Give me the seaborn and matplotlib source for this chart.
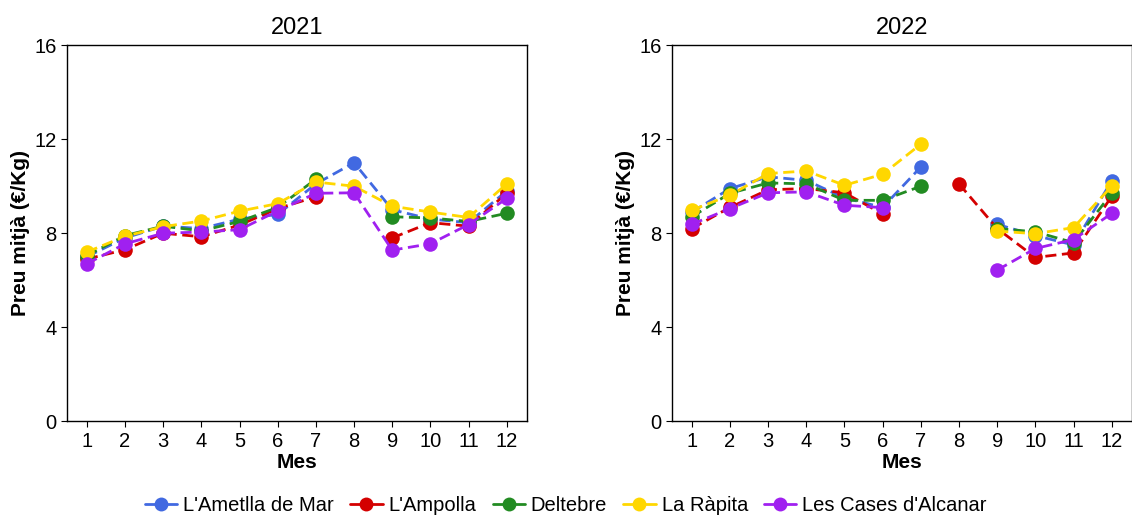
import numpy as np
import pandas as pd
import matplotlib
matplotlib.use("Agg")
import matplotlib.pyplot as plt
from matplotlib.lines import Line2D
import seaborn as sns

nan = np.nan
months = list(range(1, 13))
towns = ["L'Ametlla de Mar", "L'Ampolla", "Deltebre", "La Ràpita", "Les Cases d'Alcanar"]
colors = ["#4169E1", "#D40000", "#228B22", "#FFD700", "#A020F0"]

# average price (€/Kg) per month, 2021
ametlla_2021 = [7.0, 7.8, 8.3, 8.2, 8.6, 8.8, 10.1, 11.0, 9.0, 8.6, 8.45, 9.8]
ampolla_2021 = [6.9, 7.3, 8.0, 7.85, 8.35, 9.05, 9.55, nan, 7.8, 8.45, 8.3, 9.7]
deltebre_2021 = [7.05, 7.9, 8.3, 8.1, 8.5, 9.1, 10.3, nan, 8.7, 8.65, 8.5, 8.85]
rapita_2021 = [7.2, 7.87, 8.28, 8.52, 8.94, 9.26, 10.18, 10.0, 9.15, 8.9, 8.67, 10.1]
cases_2021 = [6.7, 7.55, 8.0, 8.05, 8.15, 8.95, 9.7, 9.72, 7.28, 7.55, 8.37, 9.48]

# average price (€/Kg) per month, 2022
ametlla_2022 = [8.9, 9.9, 10.4, 10.25, 9.5, 9.1, 10.82, nan, 8.38, 7.9, 7.5, 10.23]
ampolla_2022 = [8.2, 9.1, 9.85, 9.9, 9.72, 8.82, nan, 10.1, 8.2, 6.97, 7.16, 9.57]
deltebre_2022 = [8.7, 9.7, 10.14, 10.1, 9.4, 9.4, 10.0, nan, 8.2, 8.06, 7.6, 9.7]
rapita_2022 = [8.98, 9.62, 10.54, 10.65, 10.04, 10.51, 11.79, nan, 8.09, 7.98, 8.24, 10.0]
cases_2022 = [8.38, 9.05, 9.72, 9.76, 9.19, 9.09, nan, nan, 6.43, 7.35, 7.73, 8.84]

series = {
    "2021": [ametlla_2021, ampolla_2021, deltebre_2021, rapita_2021, cases_2021],
    "2022": [ametlla_2022, ampolla_2022, deltebre_2022, rapita_2022, cases_2022],
}

rows = []
for year, vals in series.items():
    for town, v in zip(towns, vals):
        seg = 0
        for m, p in zip(months, v):
            if np.isnan(p):
                seg += 1  # missing month breaks the line
                continue
            rows.append({"Any": year, "Municipi": town, "Mes": m, "Preu": p, "seg": seg})
df = pd.DataFrame(rows)

sns.set_style("ticks")
plt.rcParams["font.family"] = ["Liberation Sans", "DejaVu Sans"]
plt.rcParams["text.color"] = "black"
plt.rcParams["axes.labelcolor"] = "black"

fig = plt.figure(figsize=(11.32, 5.2), dpi=100)
ax1 = fig.add_axes([0.0592, 0.19, 0.406, 0.723])
ax2 = fig.add_axes([0.5936, 0.19, 0.406, 0.723])
palette = dict(zip(towns, colors))

for ax, year in zip([ax1, ax2], ["2021", "2022"]):
    sub = df[df["Any"] == year]
    sns.lineplot(data=sub, x="Mes", y="Preu", hue="Municipi", hue_order=towns,
                 palette=palette, units="seg", estimator=None, sort=True,
                 marker="o", markersize=10.5, markeredgewidth=0,
                 linestyle=(0, (4, 2)), linewidth=2, legend=False, ax=ax)
    ax.set_xlim(0.48, 12.52)
    ax.set_ylim(0, 16)
    ax.set_xticks(months)
    ax.set_yticks([0, 4, 8, 12, 16])
    ax.set_title(year, fontsize=17, pad=8, color="black")
    ax.set_xlabel("Mes", fontsize=15, fontweight="bold", labelpad=2)
    ax.set_ylabel("Preu mitjà (€/Kg)", fontsize=15, fontweight="bold", labelpad=3)
    ax.tick_params(labelsize=14.5, length=4, color="black", labelcolor="black")
    for s in ax.spines.values():
        s.set_visible(True)
        s.set_color("black")
        s.set_linewidth(1)

handles = [Line2D([], [], color=c, marker="o", linestyle="-", linewidth=2,
                  markersize=10, markeredgewidth=0) for c in colors]
fig.legend(handles, towns, loc="lower center", ncol=5, frameon=False,
           fontsize=14.5, bbox_to_anchor=(0.5, -0.025), handlelength=1.6,
           handletextpad=0.3, columnspacing=0.8)

fig.savefig("out.png", dpi=100)
